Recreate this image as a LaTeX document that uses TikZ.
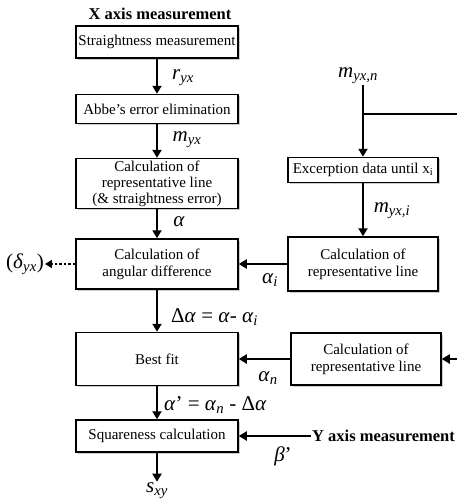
\documentclass[tikz,border=0pt]{standalone}
\usepackage{fontspec}
\setmainfont{Liberation Serif}
\usetikzlibrary{arrows.meta,shadows}
% variable en cursiva con subindice
\newcommand{\vari}[2]{\textit{#1}\textsubscript{\textit{#2}}}

\begin{document}
\begin{tikzpicture}[x=1pt, y=-1pt,
    caja/.style={draw, line width=1.5pt, fill=white, align=center, inner sep=2pt,
      font=\fontsize{15}{17}\selectfont,
      drop shadow={shadow xshift=1.8pt, shadow yshift=-1.8pt, opacity=.4}},
    izq/.style={caja, minimum width=162pt},
    der/.style={caja, minimum width=150pt},
    etiq/.style={font=\fontsize{21}{23}\selectfont, inner sep=1pt},
    titulo/.style={font=\fontsize{16.5}{18}\selectfont\bfseries, inner sep=1pt},
    flecha/.style={line width=2pt, -{Triangle[length=8pt,width=9pt]}}]
    \useasboundingbox (0,0) rectangle (457,503);
    % Columna izquierda: medicion en X
    \node[titulo] (xax) at (160,14) {X axis measurement};
    \node[izq, minimum height=32pt] (sm) at (157,42) {Straightness measurement};
    \node[izq, minimum height=29pt] (abbe) at (157,109) {Abbe’s error elimination};
    \node[izq, minimum height=47pt, font=\fontsize{15}{16}\selectfont] (repr) at (157,183.5)
        {Calculation of\\representative line\\(\& straightness error)};
    \node[izq, minimum height=50pt] (angd) at (157,264) {Calculation of\\angular difference};
    \node[izq, minimum height=53pt] (best) at (157,359) {Best fit};
    \node[izq, minimum height=32pt] (sq) at (157,436) {Squareness calculation};
    \node[etiq] (sxy) at (157,491) {\vari{s}{xy}};
    \node[etiq] (dyx) at (25,264) {(\vari{δ}{yx})};
    % Columna derecha: datos parciales
    \node[etiq] (mn) at (358,76) {\vari{m}{yx,n}};
    \node[der, minimum height=25pt] (exc) at (363,170) {Excerption data until x\textsubscript{i}};
    \node[der, minimum height=54pt] (rl1) at (363,264) {Calculation of\\representative line};
    \node[der, minimum height=52pt] (rl2) at (366,359) {Calculation of\\representative line};
    \node[titulo, anchor=west] (yax) at (311,436) {Y axis measurement};
    % Ramal de m_{yx,n} (el tramo vertical queda fuera del borde)
    \coordinate (ramal) at (363,114);
    \coordinate (borde1) at (459,114);
    \coordinate (borde2) at (459,359);
    % Flechas
    \draw[flecha] (sm) -- (abbe);
    \draw[flecha] (abbe) -- (repr);
    \draw[flecha] (repr) -- (angd);
    \draw[flecha] (angd) -- (best);
    \draw[flecha] (best) -- (sq);
    \draw[flecha] (sq) -- (sxy);
    \draw[line width=2pt, dash pattern=on 2.5pt off 2pt, -{Triangle[length=7pt,width=8pt]}] (angd) -- (dyx);
    \draw[flecha] (mn.south -| ramal) -- (exc);
    \draw[flecha] (ramal) -- (borde1) -- (borde2) -- (rl2);
    \draw[flecha] (exc) -- (rl1);
    \draw[flecha] (rl1) -- (angd);
    \draw[flecha] (rl2) -- (best);
    \draw[flecha] (yax) -- (sq);
    % Etiquetas de las flechas
    \node[etiq] (lr) at (183,78) {\vari{r}{yx}};
    \node[etiq] (lm) at (187,140) {\vari{m}{yx}};
    \node[etiq] (la) at (179,222) {\textit{α}};
    \node[etiq, anchor=west] (ld) at (170,317) {Δ\textit{α} = \textit{α}- \vari{α}{i}};
    \node[etiq] (lai) at (270,280) {\vari{α}{i}};
    \node[etiq] (lmi) at (392,211) {\vari{m}{yx,i}};
    \node[etiq] (lan) at (268,378) {\vari{α}{n}};
    \node[etiq, anchor=west] (lp) at (163,405) {\textit{α}’ = \vari{α}{n} - Δ\textit{α}};
    \node[etiq] (lb) at (283,456) {\textit{β}’};
\end{tikzpicture}
\end{document}
